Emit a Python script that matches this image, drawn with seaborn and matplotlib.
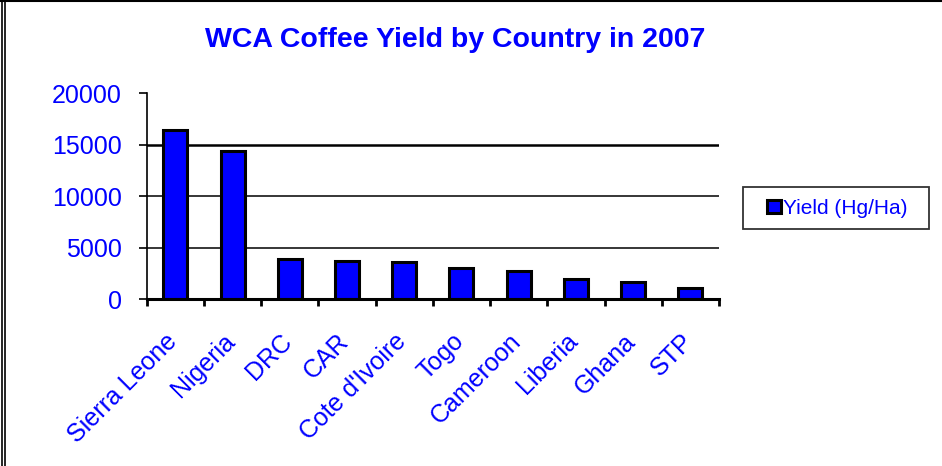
import matplotlib
matplotlib.use("Agg")
import matplotlib.pyplot as plt
from matplotlib.lines import Line2D
from matplotlib.patches import Rectangle
from matplotlib.legend_handler import HandlerPatch
import matplotlib.transforms as mtransforms
import seaborn as sns
import pandas as pd

countries = ["Sierra Leone", "Nigeria", "DRC", "CAR", "Cote d'Ivoire",
             "Togo", "Cameroon", "Liberia", "Ghana", "STP"]
yields = [16400, 14400, 3870, 3720, 3620, 3040, 2750, 1970, 1680, 1100]
y_ticks = [0, 5000, 10000, 15000, 20000]
series_name = "Yield (Hg/Ha)"
title = "WCA Coffee Yield by Country in 2007"

BLUE = "#0000FF"

sns.set_theme(style="white")
plt.rcParams["font.family"] = ["Liberation Sans", "DejaVu Sans"]

df = pd.DataFrame({"Country": countries, "Yield": yields})

fig = plt.figure(figsize=(9.42, 4.66), dpi=100)
ax = fig.add_axes([0.1557, 0.3577, 0.6076, 0.4427])

sns.barplot(data=df, x="Country", y="Yield", color=BLUE, saturation=1,
            edgecolor="black", linewidth=2.2, width=0.42, ax=ax)

ax.set_xlim(-0.5, len(countries) - 0.5)
ax.set_ylim(0, 20000)
ax.set_yticks(y_ticks)
ax.set_yticklabels([str(v) for v in y_ticks], color=BLUE, fontsize=18)
ax.set_xlabel("")
ax.set_ylabel("")

# gridlines
ax.yaxis.grid(True, color="black", linewidth=1.1)
ax.set_axisbelow(True)
gl = ax.get_ygridlines()
gl[0].set_visible(False)
gl[-1].set_visible(False)
if len(gl) > 3:
    gl[3].set_linewidth(1.8)

for s in ["top", "right"]:
    ax.spines[s].set_visible(False)
for s in ["left", "bottom"]:
    ax.spines[s].set_visible(True)
    ax.spines[s].set_color("black")
ax.spines["left"].set_linewidth(1.2)
ax.spines["bottom"].set_linewidth(2.2)

ax.tick_params(axis="y", which="major", direction="out", length=6, width=1.2,
               color="black", pad=12, left=True)

# x tick labels
ax.set_xticks(range(len(countries)))
ax.set_xticklabels(countries, rotation=45, ha="right", rotation_mode="anchor",
                   color=BLUE, fontsize=18)
ax.tick_params(axis="x", which="major", length=0, pad=12)
offset = mtransforms.ScaledTranslation(-0.10, -0.13, fig.dpi_scale_trans)
for lbl in ax.get_xticklabels():
    lbl.set_transform(lbl.get_transform() + offset)
# category boundary ticks
ax.set_xticks([i - 0.5 for i in range(len(countries) + 1)], minor=True)
ax.tick_params(axis="x", which="minor", direction="out", length=5, width=2,
               color="black", bottom=True)


# legend with a small square marker set a bit in from the frame
def square_patch(legend, orig_handle, xdescent, ydescent, width, height, fontsize):
    size = 9.5
    return Rectangle((-xdescent + width - size, -ydescent + (height - size) / 2),
                     size, size)


proxy = Rectangle((0, 0), 1, 1, facecolor=BLUE, edgecolor="black", linewidth=2.2)
leg = ax.legend([proxy], [series_name], loc="lower left",
                bbox_to_anchor=(743 / 942, 1 - 229 / 466, 186 / 942, 42 / 466),
                bbox_transform=fig.transFigure, mode="expand",
                frameon=True, fancybox=False, fontsize=15,
                handlelength=1.25, handleheight=0.7, handletextpad=0.1,
                borderpad=0.55, borderaxespad=0,
                handler_map={Rectangle: HandlerPatch(patch_func=square_patch)})
leg.get_frame().set_edgecolor("black")
leg.get_frame().set_linewidth(1.3)
for t in leg.get_texts():
    t.set_color(BLUE)

fig.text(455 / 942, 1 - 40 / 466, title, ha="center", va="center",
         color=BLUE, fontsize=20.5, fontweight="bold")

# chart frame lines (top line, double left line)
fig.add_artist(Line2D([0, 1], [1 - 1 / 466, 1 - 1 / 466], color="black",
                      linewidth=1.5, transform=fig.transFigure))
fig.add_artist(Line2D([1.5 / 942, 1.5 / 942], [0, 1], color="black",
                      linewidth=1.2, transform=fig.transFigure))
fig.add_artist(Line2D([4.5 / 942, 4.5 / 942], [0, 1], color="black",
                      linewidth=1.2, transform=fig.transFigure))

fig.savefig("out.png", dpi=100, facecolor="white")
